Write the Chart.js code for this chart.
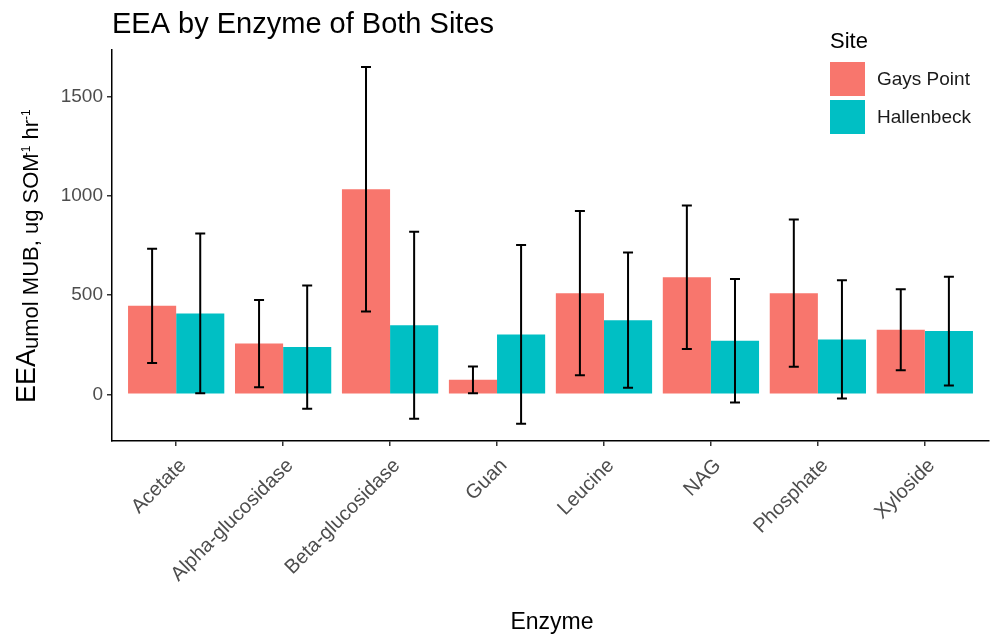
<!DOCTYPE html>
<html>
<head>
<meta charset="utf-8">
<script src="https://cdn.jsdelivr.net/npm/chart.js@4.4.0/dist/chart.umd.min.js"></script>
<style>
  body { margin: 0; background: #fff; }
  canvas { display: block; }
</style>
</head>
<body>
<canvas id="eeaChart" width="990" height="638"></canvas>
<script>
// data
var enzymes = ["Acetate", "Alpha-glucosidase", "Beta-glucosidase", "Guan", "Leucine", "NAG", "Phosphate", "Xyloside"];
var gaysPointMean = [446, 256, 1033, 73, 510, 590, 510, 326];
var gaysPointErr = [288, 220, 616, 67, 414, 362, 371, 204];
var hallenbeckMean = [408, 238, 348, 302, 374, 270, 277, 319];
var hallenbeckErr = [402, 310, 471, 450, 341, 311, 298, 274];
var yTicks = [0, 500, 1000, 1500];

var FONT = "'Liberation Sans', Arial, sans-serif";
var RED = "#F8766D";
var TEAL = "#00BFC4";

function toPoints(vals){
	var out = [];
	for(var i = 0; i < vals.length; i++){
		out.push({x: i, y: vals[i]});
	}
	return out;
}

/*error bars + titles + legend drawn on top*/
var decorPlugin = {
	id: "decor",
	afterDatasetsDraw: function(chart){
		var ctx = chart.ctx;
		var yScale = chart.scales.y;
		var errs = [gaysPointErr, hallenbeckErr];
		var means = [gaysPointMean, hallenbeckMean];
		ctx.save();
		ctx.strokeStyle = "#000";
		ctx.lineWidth = 2;
		for(var d = 0; d < 2; d++){
			var meta = chart.getDatasetMeta(d);
			for(var i = 0; i < meta.data.length; i++){
				var x = meta.data[i].x;
				var top = yScale.getPixelForValue(means[d][i] + errs[d][i]);
				var bot = yScale.getPixelForValue(means[d][i] - errs[d][i]);
				ctx.beginPath();
				ctx.moveTo(x, top); ctx.lineTo(x, bot);
				ctx.moveTo(x - 5, top); ctx.lineTo(x + 5, top);
				ctx.moveTo(x - 5, bot); ctx.lineTo(x + 5, bot);
				ctx.stroke();
			}
		}
		ctx.restore();
	},
	afterDraw: function(chart){
		var ctx = chart.ctx;
		ctx.save();
		ctx.fillStyle = "#000";
		ctx.textBaseline = "alphabetic";

		// title
		ctx.font = "29px " + FONT;
		ctx.textAlign = "left";
		ctx.fillText("EEA by Enzyme of Both Sites", 112, 33);

		// x axis title
		ctx.font = "23px " + FONT;
		ctx.textAlign = "center";
		ctx.fillText("Enzyme", 552, 629);

		// y axis title, EEA with subscript and superscripts
		ctx.save();
		ctx.translate(35, 403);
		ctx.rotate(-Math.PI / 2);
		ctx.textAlign = "left";
		var parts = [
			{t: "EEA", size: 27, dy: 0, dx: 0},
			{t: "umol MUB, ug SOM", size: 22, dy: 3, dx: 0},
			{t: "-1", size: 12, dy: -5, dx: -3},
			{t: " hr", size: 22, dy: 3, dx: 0},
			{t: "-1", size: 12, dy: -5, dx: 0}
		];
		var px = 0;
		for(var p = 0; p < parts.length; p++){
			ctx.font = parts[p].size + "px " + FONT;
			px += parts[p].dx;
			ctx.fillText(parts[p].t, px, parts[p].dy);
			px += ctx.measureText(parts[p].t).width;
		}
		ctx.restore();

		// legend
		ctx.textAlign = "left";
		ctx.font = "22px " + FONT;
		ctx.fillText("Site", 830, 48);
		ctx.fillStyle = RED;
		ctx.fillRect(830, 62, 35, 34);
		ctx.fillStyle = TEAL;
		ctx.fillRect(830, 100, 35, 34);
		ctx.fillStyle = "#1a1a1a";
		ctx.font = "19px " + FONT;
		ctx.textBaseline = "middle";
		ctx.fillText("Gays Point", 877, 80);
		ctx.fillText("Hallenbeck", 877, 118);
		ctx.restore();
	}
};

var ctx = document.getElementById("eeaChart").getContext("2d");
var chart = new Chart(ctx, {
	type: "bar",
	data: {
		datasets: [
			{label: "Gays Point", data: toPoints(gaysPointMean), backgroundColor: RED, borderWidth: 0},
			{label: "Hallenbeck", data: toPoints(hallenbeckMean), backgroundColor: TEAL, borderWidth: 0}
		]
	},
	options: {
		responsive: false,
		animation: false,
		categoryPercentage: 0.9,
		barPercentage: 1.0,
		layout: { padding: { top: 50, right: 1, left: 0, bottom: 0 } },
		plugins: {
			legend: { display: false },
			tooltip: { enabled: false },
			title: { display: false }
		},
		scales: {
			x: {
				type: "linear",
				offset: false,
				min: -0.6,
				max: 7.6,
				afterBuildTicks: function(scale){
					scale.ticks = enzymes.map(function(e, i){ return {value: i}; });
				},
				afterFit: function(scale){ scale.height = 197; },
				border: { display: true, color: "#000", width: 1.5 },
				grid: { display: true, offset: false, drawOnChartArea: false, drawTicks: true, tickLength: 5, color: "#333", lineWidth: 1.5 },
				ticks: {
					autoSkip: false,
					maxRotation: 45,
					minRotation: 45,
					padding: 8,
					labelOffset: 7,
					color: "#4d4d4d",
					font: { family: FONT, size: 20 },
					callback: function(v){ return enzymes[Math.round(v)]; }
				}
			},
			y: {
				min: -235,
				max: 1735,
				afterBuildTicks: function(scale){
					scale.ticks = yTicks.map(function(v){ return {value: v}; });
				},
				afterFit: function(scale){ scale.width = 112; },
				border: { display: true, color: "#000", width: 1.5 },
				grid: { display: true, drawOnChartArea: false, drawTicks: true, tickLength: 5, color: "#333", lineWidth: 1.5 },
				ticks: {
					padding: 4,
					color: "#4d4d4d",
					font: { family: FONT, size: 19 },
					callback: function(v){ return String(v); }
				}
			}
		}
	},
	plugins: [decorPlugin]
});
</script>
</body>
</html>
